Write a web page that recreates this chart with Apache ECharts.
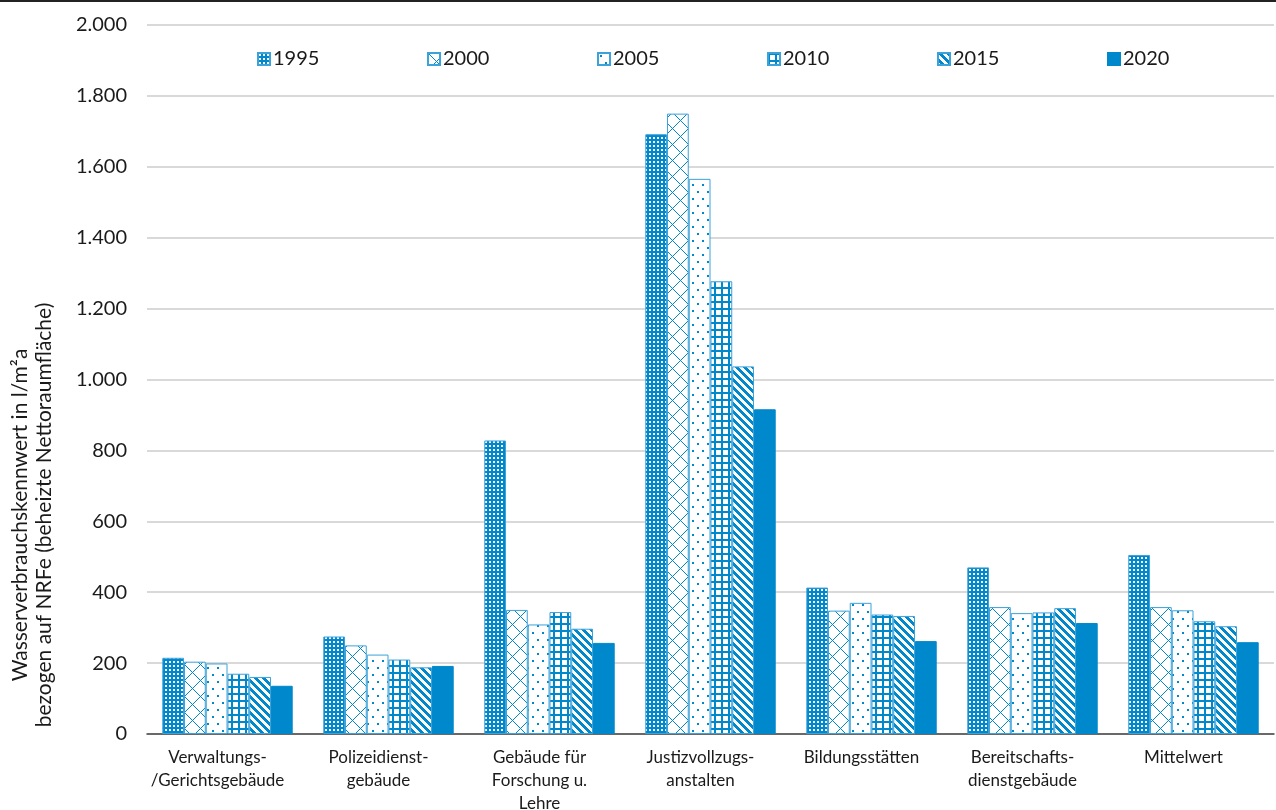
<!DOCTYPE html>
<html>
<head>
<meta charset="utf-8">
<script src="https://cdn.jsdelivr.net/npm/echarts@6/dist/echarts.min.js"></script>
<style>
  html, body { margin: 0; padding: 0; background: #fff; }
  #chart { width: 1276px; height: 810px; }
</style>
</head>
<body>
<div id="chart"></div>
<script>
// Building categories (x axis)
const categories = [
  'Verwaltungs-\n/Gerichtsgebäude',
  'Polizeidienst-\ngebäude',
  'Gebäude für\nForschung u.\nLehre',
  'Justizvollzugs-\nanstalten',
  'Bildungsstätten',
  'Bereitschafts-\ndienstgebäude',
  'Mittelwert'
];

// Survey years (one series each)
const years = ['1995', '2000', '2005', '2010', '2015', '2020'];

// Water consumption per year, l/m²a, in category order
const values1995 = [215, 275, 828, 1692, 413, 470, 505];
const values2000 = [204, 250, 350, 1750, 348, 358, 358];
const values2005 = [199, 224, 309, 1566, 370, 341, 349];
const values2010 = [170, 210, 344, 1277, 337, 343, 318];
const values2015 = [161, 188, 297, 1037, 333, 355, 304];
const values2020 = [136, 192, 257, 916, 262, 313, 259];

const yTicks = [0, 200, 400, 600, 800, 1000, 1200, 1400, 1600, 1800, 2000];

const BLUE = '#0088cc';
const EDGE = '#3ba2da';
const FONT = 'Lato';

function tile(w, h, paint) {
  const c = document.createElement('canvas');
  c.width = w; c.height = h;
  const g = c.getContext('2d');
  g.fillStyle = '#ffffff';
  g.fillRect(0, 0, w, h);
  g.fillStyle = BLUE;
  paint(g, w, h);
  return { image: c, repeat: 'repeat' };
}

// 1995: blue with small white squares
const pat1995 = tile(4, 4, (g) => {
  g.fillRect(0, 0, 4, 4);
  g.fillStyle = '#ffffff';
  g.fillRect(1, 1, 2, 2);
});
// 2000: diamond lattice of thin diagonals
const pat2000 = tile(16, 16, (g, w, h) => {
  for (let y = 0; y < h; y++) {
    for (let x = 0; x < w; x++) {
      if ((x + y) % 16 === 0 || ((x - y) % 16 + 16) % 16 === 0) g.fillRect(x, y, 1, 1);
    }
  }
});
// 2005: staggered dots
const pat2005 = tile(10, 14, (g) => {
  g.fillRect(2, 2, 2, 2);
  g.fillRect(7, 9, 2, 2);
});
// 2010: square grid
const pat2010 = tile(7, 7, (g) => {
  g.fillRect(0, 0, 7, 2);
  g.fillRect(0, 0, 2, 7);
});
// 2015: wide downward diagonal stripes
const pat2015 = tile(8, 8, (g, w, h) => {
  for (let y = 0; y < h; y++) {
    for (let x = 0; x < w; x++) {
      if (((x - y) % 8 + 8) % 8 < 4) g.fillRect(x, y, 1, 1);
    }
  }
});

const fills = [pat1995, pat2000, pat2005, pat2010, pat2015, BLUE];
const seriesData = [values1995, values2000, values2005, values2010, values2015, values2020];

const chart = echarts.init(document.getElementById('chart'), null, { renderer: 'canvas' });

const legends = years.map((y, i) => ({
  data: [y],
  left: 252 + i * 170,
  top: 44,
  itemWidth: 12,
  itemHeight: 12,
  itemGap: 0,
  icon: 'rect',
  textStyle: { fontFamily: FONT, fontSize: 20, color: '#1a1a1a', padding: [0, 0, 0, -2] },
  selectedMode: false
}));

chart.setOption({
  animation: false,
  backgroundColor: '#ffffff',
  textStyle: { fontFamily: FONT },
  grid: { left: 147, right: 2, top: 25, bottom: 76, containLabel: false, outerBoundsMode: 'none' },
  legend: legends,
  xAxis: {
    type: 'category',
    data: categories,
    axisTick: { show: false },
    axisLine: { lineStyle: { color: '#444', width: 1.5 } },
    axisLabel: {
      interval: 0,
      fontFamily: FONT,
      fontSize: 17,
      color: '#1a1a1a',
      lineHeight: 23,
      margin: 12,
      padding: [0, 20, 0, 0]
    }
  },
  yAxis: {
    type: 'value',
    min: yTicks[0],
    max: yTicks[yTicks.length - 1],
    interval: yTicks[1] - yTicks[0],
    axisLine: { show: false },
    axisTick: { show: false },
    splitLine: { lineStyle: { color: '#cccccc', width: 1.5 } },
    axisLabel: {
      fontFamily: FONT,
      fontSize: 20,
      color: '#1a1a1a',
      margin: 20,
      formatter: (v) => v.toString().replace(/\B(?=(\d{3})+(?!\d))/g, '.')
    }
  },
  series: years.map((y, i) => ({
    name: y,
    type: 'bar',
    data: seriesData[i],
    barGap: '0%',
    barCategoryGap: '19%',
    itemStyle: {
      color: fills[i],
      borderColor: i === 5 ? BLUE : EDGE,
      borderWidth: 1
    }
  })),
  graphic: [
    {
      type: 'rect',
      left: 0,
      top: 0,
      shape: { width: 1276, height: 2 },
      style: { fill: '#222' }
    },
    {
      type: 'text',
      x: 32,
      y: 515,
      rotation: Math.PI / 2,
      style: {
        text: 'Wasserverbrauchskennwert in l/m²a\nbezogen auf NRFe (beheizte Nettoraumfläche)',
        fontFamily: FONT,
        fontSize: 21,
        lineHeight: 24,
        fill: '#1a1a1a',
        align: 'center',
        verticalAlign: 'middle'
      }
    }
  ]
});
</script>
</body>
</html>
